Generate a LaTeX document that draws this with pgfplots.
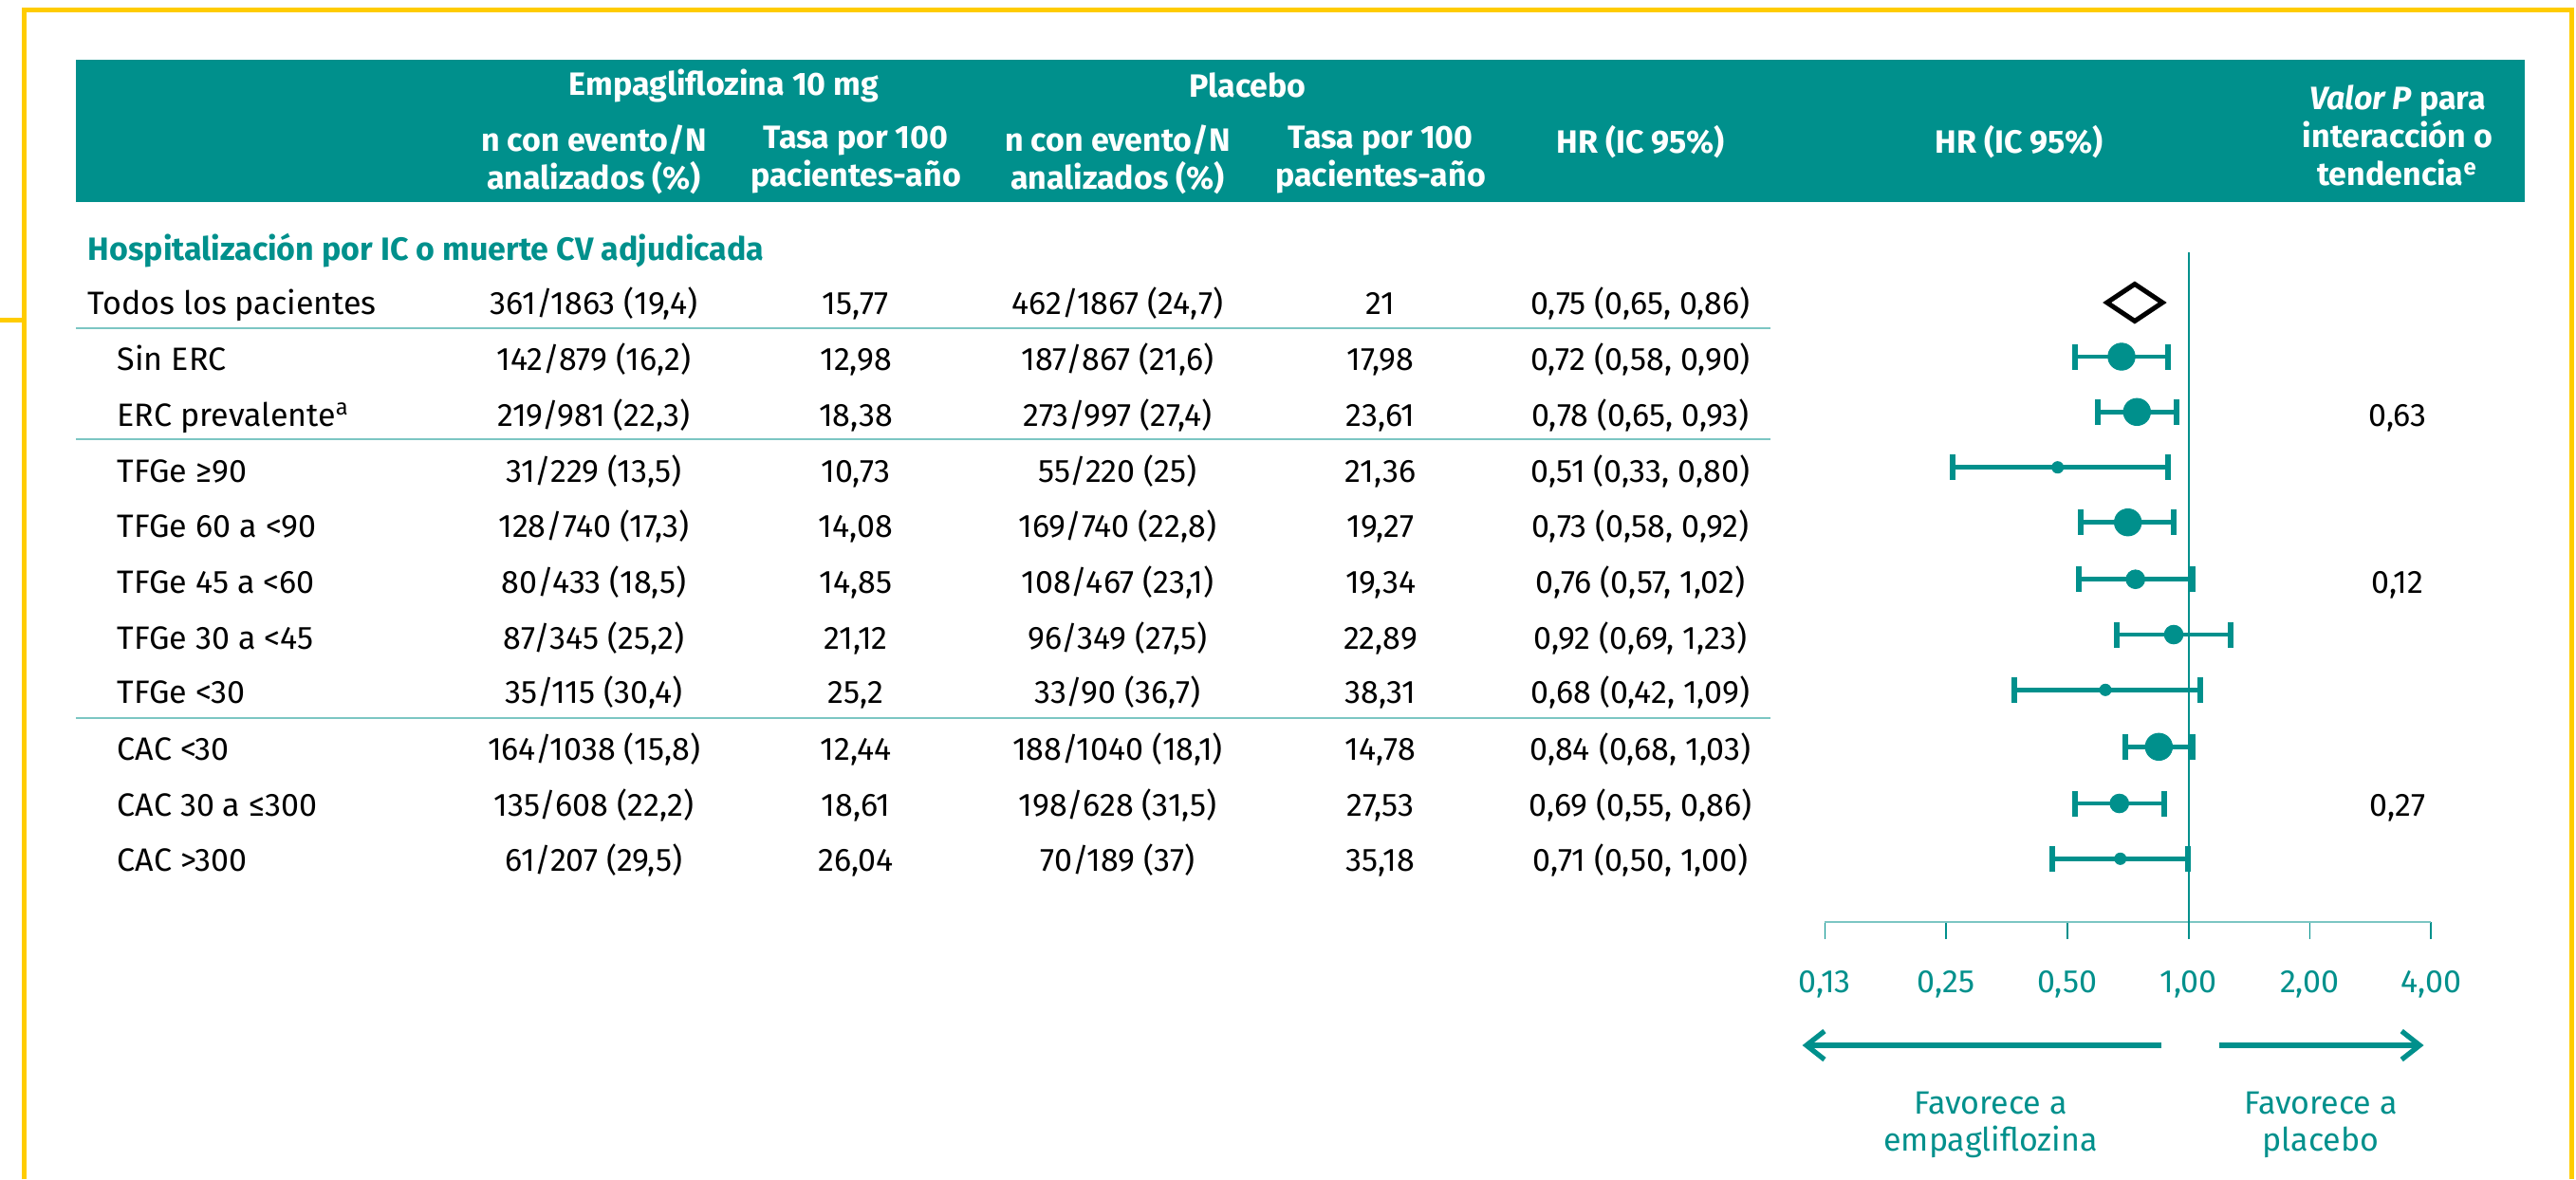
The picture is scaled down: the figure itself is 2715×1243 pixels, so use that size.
\documentclass[border=0pt]{standalone}
\usepackage{fontspec}
\setmainfont{Fira Sans}
\usepackage{pgfplots}
\usepackage{pgfplotstable}
\pgfplotsset{compat=1.18}
\usetikzlibrary{arrows.meta}

\definecolor{brand}{HTML}{00908C}
\definecolor{brandlight}{HTML}{7CC6C3}
\definecolor{frame}{HTML}{FFCC00}

\newcommand\fs{\fontsize{8.5}{10}\selectfont}

% y (px), indent x, label, n emp, rate emp, n placebo, rate placebo, HR
\newcommand\tabrow[8]{%
  \node[anchor=base west, inner sep=0] at (#2,#1+11.5) {#3};
  \node[anchor=base, inner sep=0] at (626,#1+11.5) {#4};
  \node[anchor=base, inner sep=0] at (902,#1+11.5) {#5};
  \node[anchor=base, inner sep=0] at (1178,#1+11.5) {#6};
  \node[anchor=base, inner sep=0] at (1455,#1+11.5) {#7};
  \node[anchor=base, inner sep=0] at (1729,#1+11.5) {#8};
}

% confidence intervals (lo / hi per row, nan splits rows)
\pgfplotstableread{
x      y
0.5225 -376
0.8880 -376
nan    nan
0.5955 -434.3
0.9324 -434.3
nan    nan
0.2589 -492.7
0.8895 -492.7
nan    nan
0.5408 -550.7
0.9204 -550.7
nan    nan
0.5349 -610.7
1.0225 -610.7
nan    nan
0.6648 -669
1.2702 -669
nan    nan
0.3700 -727.3
1.0678 -727.3
nan    nan
0.6967 -787.3
1.0225 -787.3
nan    nan
0.5225 -847
0.8689 -847
nan    nan
0.4589 -905.3
0.9951 -905.3
}\citable

% point estimates, by marker size
\pgfplotstableread{
hr     y
0.6818 -376
0.7448 -434.3
0.7071 -550.7
0.8440 -787.3
}\bigpts
\pgfplotstableread{
hr     y
0.7384 -610.7
0.9189 -669
0.6735 -847
}\midpts
\pgfplotstableread{
hr     y
0.4732 -492.7
0.6218 -727.3
0.6772 -905.3
}\smallpts

\begin{document}
\begin{tikzpicture}
\begin{scope}[x=0.25pt, y=-0.25pt, font=\fs]
\useasboundingbox (0,0) rectangle (2715,1243);

% yellow frame
\draw[frame, line width=1.25pt] (25.5,1243) -- (25.5,10.5) -- (2710.5,10.5) -- (2710.5,1243);
\draw[frame, line width=1.25pt] (0,337.5) -- (25.5,337.5);

% header band
\fill[brand] (80,63.3) rectangle (2661,212.7);
\begin{scope}[every node/.style={text=white, font=\fs\bfseries, align=center, inner sep=0}]
\node at (763,90) {Empagliflozina 10 mg};
\node at (1315,90) {Placebo};
\node at (626,168) {n con evento/N\\analizados (\%)};
\node at (902,168) {Tasa por 100\\pacientes-año};
\node at (1178,168) {n con evento/N\\analizados (\%)};
\node at (1455,168) {Tasa por 100\\pacientes-año};
\node at (1729,150) {HR (IC 95\%)};
\node at (2128,150) {HR (IC 95\%)};
\node at (2527,143) {\textit{Valor P} para\\interacción o\\tendencia\textsuperscript{e}};
\end{scope}

\node[anchor=base west, inner sep=0, text=brand, font=\fs\bfseries] at (92,274.5)
  {Hospitalización por IC o muerte CV adjudicada};

\tabrow{320}{92}{Todos los pacientes}{361/1863 (19,4)}{15,77}{462/1867 (24,7)}{21}{0,75 (0,65, 0,86)}
\tabrow{379}{123}{Sin ERC}{142/879 (16,2)}{12,98}{187/867 (21,6)}{17,98}{0,72 (0,58, 0,90)}
\tabrow{437.5}{123}{ERC prevalente\textsuperscript{a}}{219/981 (22,3)}{18,38}{273/997 (27,4)}{23,61}{0,78 (0,65, 0,93)}
\tabrow{496.7}{123}{TFGe ≥90}{31/229 (13,5)}{10,73}{55/220 (25)}{21,36}{0,51 (0,33, 0,80)}
\tabrow{555.3}{123}{TFGe 60 a <90}{128/740 (17,3)}{14,08}{169/740 (22,8)}{19,27}{0,73 (0,58, 0,92)}
\tabrow{614.2}{123}{TFGe 45 a <60}{80/433 (18,5)}{14,85}{108/467 (23,1)}{19,34}{0,76 (0,57, 1,02)}
\tabrow{672.8}{123}{TFGe 30 a <45}{87/345 (25,2)}{21,12}{96/349 (27,5)}{22,89}{0,92 (0,69, 1,23)}
\tabrow{730.2}{123}{TFGe <30}{35/115 (30,4)}{25,2}{33/90 (36,7)}{38,31}{0,68 (0,42, 1,09)}
\tabrow{789.5}{123}{CAC <30}{164/1038 (15,8)}{12,44}{188/1040 (18,1)}{14,78}{0,84 (0,68, 1,03)}
\tabrow{848.8}{123}{CAC 30 a ≤300}{135/608 (22,2)}{18,61}{198/628 (31,5)}{27,53}{0,69 (0,55, 0,86)}
\tabrow{907.4}{123}{CAC >300}{61/207 (29,5)}{26,04}{70/189 (37)}{35,18}{0,71 (0,50, 1,00)}

% p values
\node[anchor=base, inner sep=0] at (2527,449) {0,63};
\node[anchor=base, inner sep=0] at (2527,625.7) {0,12};
\node[anchor=base, inner sep=0] at (2527,860.3) {0,27};

% row separators
\draw[brandlight, line width=0.55pt] (80,345.7) -- (1866,345.7);
\draw[brandlight, line width=0.55pt] (80,463) -- (1866,463);
\draw[brandlight, line width=0.55pt] (80,757) -- (1866,757);

% direction arrows and captions
\draw[brand, line width=1.33pt, -{Straight Barb[length=4.75pt, width=7.5pt]}] (2277.5,1102) -- (1899.6,1102);
\draw[brand, line width=1.33pt, -{Straight Barb[length=4.75pt, width=7.5pt]}] (2338.8,1102) -- (2554.5,1102);
\begin{scope}[every node/.style={text=brand, anchor=base, inner sep=0}]
\node at (2098,1174) {Favorece a};
\node at (2098,1213) {empagliflozina};
\node at (2446,1174) {Favorece a};
\node at (2446,1213) {placebo};
\end{scope}
\end{scope}

\begin{axis}[
  at={(480.825pt,-243pt)}, anchor=south west,
  scale only axis, width=159.7pt, height=176.5pt,
  xmode=log, log basis x=2, xmin=0.125, xmax=4,
  ymin=-972, ymax=-266,
  axis y line=none, axis x line*=bottom,
  x axis line style={draw=brandlight, line width=0.65pt, -},
  xtick={0.125,0.25,0.5,1,2,4},
  xticklabels={{0,13},{0,25},{0,50},{1,00},{2,00},{4,00}},
  minor xtick={},
  tick align=outside, major tick length=4.5pt,
  xtick style={draw=brand, line width=0.4pt},
  xticklabel style={text=brand, font=\fs, anchor=base, yshift=-14.1pt},
  clip=false,
]
\draw[brand, line width=0.45pt] (axis cs:1,-266) -- (axis cs:1,-990);
\addplot[brand, line width=1.2pt, mark=|, mark size=3.375pt,
  mark options={line width=1.5pt}, unbounded coords=jump] table[x=x, y=y] {\citable};
\addplot[brand, only marks, mark=*, mark size=3.55pt, mark options={solid, fill=brand, draw=brand, line width=0.25pt}] table[x=hr, y=y] {\bigpts};
\addplot[brand, only marks, mark=*, mark size=2.45pt, mark options={solid, fill=brand, draw=brand, line width=0.25pt}] table[x=hr, y=y] {\midpts};
\addplot[brand, only marks, mark=*, mark size=1.5pt, mark options={solid, fill=brand, draw=brand, line width=0.25pt}] table[x=hr, y=y] {\smallpts};
\addplot[black, only marks, mark=diamond, mark size=4.875pt,
  mark options={xscale=2, draw=black, fill=white, line width=1.25pt}] coordinates {(0.7355,-319)};
\end{axis}
\end{tikzpicture}
\end{document}
